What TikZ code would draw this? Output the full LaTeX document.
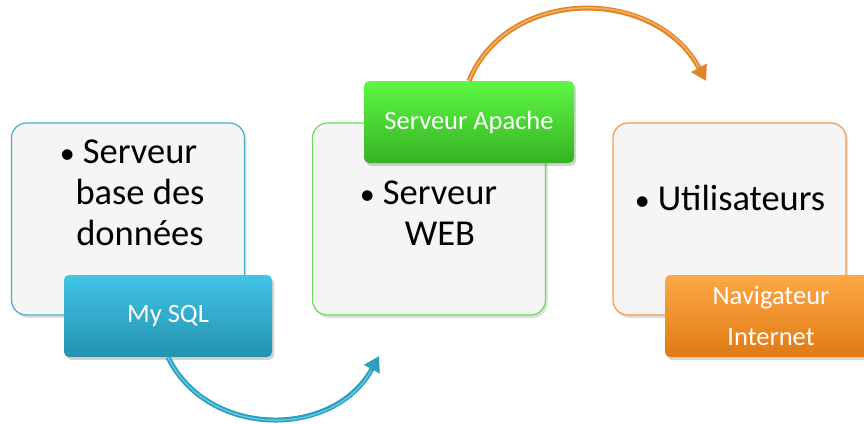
\documentclass[tikz,border=0pt]{standalone}
\usepackage{fontspec}
\setmainfont{Carlito}
\usetikzlibrary{arrows.meta,shadows}

\definecolor{boxgray}{HTML}{F5F5F5}
\definecolor{bdblue}{HTML}{4BACC6}
\definecolor{bdtop}{HTML}{40C4E6}
\definecolor{bdbot}{HTML}{2592B0}
\definecolor{flowblue}{HTML}{2E9DBE}
\definecolor{flowbluelt}{HTML}{5CCAE6}
\definecolor{webgreen}{HTML}{66DD55}
\definecolor{webtop}{HTML}{5EF744}
\definecolor{webbot}{HTML}{36B324}
\definecolor{usrorange}{HTML}{F79646}
\definecolor{usrtop}{HTML}{FDA846}
\definecolor{usrbot}{HTML}{E07A14}
\definecolor{floworange}{HTML}{E0862A}
\definecolor{floworangelt}{HTML}{F7B060}

\begin{document}
\begin{tikzpicture}[x=1pt, y=-1pt,
    bigbox/.style ={draw, line width=1.2pt, rounded corners=15pt, fill=boxgray,
      minimum width=233pt, minimum height=192pt, inner sep=0pt,
      drop shadow={opacity=0.25, shadow xshift=2pt, shadow yshift=-3pt}},
    tagbox/.style ={rounded corners=5pt, minimum width=208pt, minimum height=82pt,
      inner sep=0pt, text=white, align=center, font=\fontsize{26.5}{41}\selectfont,
      drop shadow={opacity=0.35, shadow xshift=2pt, shadow yshift=-3pt}},
    itemtext/.style ={font=\fontsize{36.5}{41}\selectfont, align=center, inner sep=0pt},
    flow/.style ={-{Triangle[length=15pt, width=17pt]}, line width=5pt}]
   \useasboundingbox (0,0) rectangle (864,423);

   % the three blocks
   \node[bigbox, draw=bdblue] (bd) at (128,219) {};
   \node[bigbox, draw=webgreen] (web) at (429,219) {};
   \node[bigbox, draw=usrorange] (usr) at (729.5,219) {};

   % anchor base sits on the last line
   \node[itemtext, anchor=base] (bdtext) at (140,245) {\llap{{\fontsize{30}{30}\selectfont•}\kern8pt}Serveur\\base des\\données};
   \node[itemtext, anchor=base] (webtext) at (440,245) {\llap{{\fontsize{30}{30}\selectfont•}\kern8pt}Serveur\\WEB};
   \node[itemtext, anchor=base] (usrtext) at (741.5,210) {\llap{{\fontsize{30}{30}\selectfont•}\kern8pt}Utilisateurs};

   % the tags
   \node[tagbox, top color=bdtop, bottom color=bdbot] (mysql) at (168,316) {My SQL};
   \node[tagbox, top color=webtop, bottom color=webbot, minimum width=210pt] (apache) at (469,122) {Serveur Apache};
   \node[tagbox, top color=usrtop, bottom color=usrbot, minimum width=212pt] (nav) at (771,316) {Navigateur\\Internet};

   % arrows
   \coordinate (webin) at (379,356);
   \coordinate (usrin) at (706,81);
   \draw[flow, draw=flowblue,
     postaction={draw=flowbluelt, line width=1.5pt, -, shorten >=16pt}]
     (mysql.south) .. controls (208,439) and (334,439) .. (webin);
   \draw[flow, draw=floworange,
     postaction={draw=floworangelt, line width=1.5pt, -, shorten >=16pt}]
     (apache.north) .. controls (508,-14) and (655,-14) .. (usrin);
 \end{tikzpicture}
\end{document}
